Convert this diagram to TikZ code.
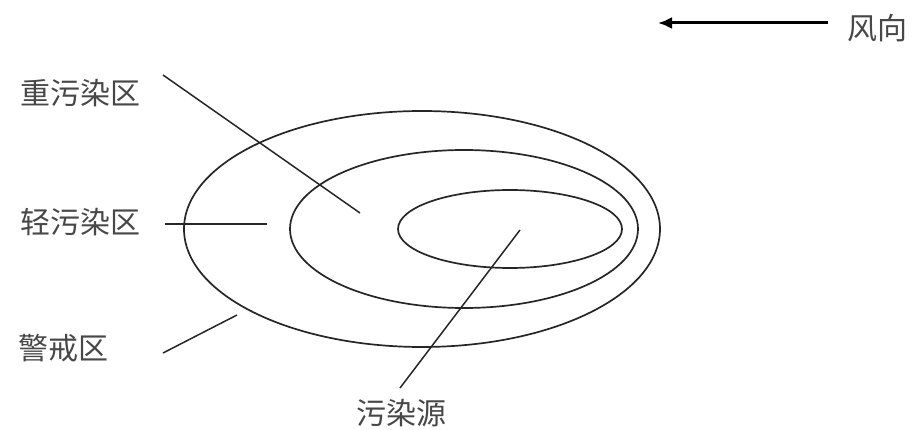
\documentclass[tikz,border=0pt]{standalone}
\usepackage{fontspec}
\newfontfamily\cjk{Noto Sans CJK SC}
\usetikzlibrary{arrows.meta}
\begin{document}
\begin{tikzpicture}[x=1pt,y=-1pt,
  lbl/.style={font=\cjk\fontsize{30}{32}\selectfont, text=black!72, inner sep=0pt},
  zone/.style={draw=black!85, line width=1.7pt},
  leader/.style={draw=black!85, line width=1.5pt},
  wind/.style={draw=black, line width=3pt, -{Latex[length=14pt,width=12pt]}}]
\useasboundingbox (0,0) rectangle (913,430);
% zones
\draw[zone] (422,229) ellipse [x radius=238, y radius=118];
\draw[zone] (464,229) ellipse [x radius=174, y radius=79];
\draw[zone] (510,229) ellipse [x radius=112, y radius=39];
% labels
\node[lbl] (heavy) at (80,93) {重污染区};
\node[lbl] (light) at (80,222) {轻污染区};
\node[lbl] (warn) at (63,348) {警戒区};
\node[lbl] (src) at (401,413) {污染源};
\node[lbl] (dir) at (877,28) {风向};
% leader ends
\coordinate (heavyA) at (163,75);
\coordinate (heavyB) at (360,213);
\coordinate (lightA) at (165,224);
\coordinate (lightB) at (267,224);
\coordinate (warnA) at (163,353);
\coordinate (warnB) at (237,315);
\coordinate (srcA) at (400,388);
\coordinate (srcB) at (520,230);
\coordinate (windA) at (828,23);
\coordinate (windB) at (658,23);
\draw[leader] (heavyA) -- (heavyB);
\draw[leader] (lightA) -- (lightB);
\draw[leader] (warnA) -- (warnB);
\draw[leader] (srcA) -- (srcB);
\draw[wind] (windA) -- (windB);
\end{tikzpicture}
\end{document}
